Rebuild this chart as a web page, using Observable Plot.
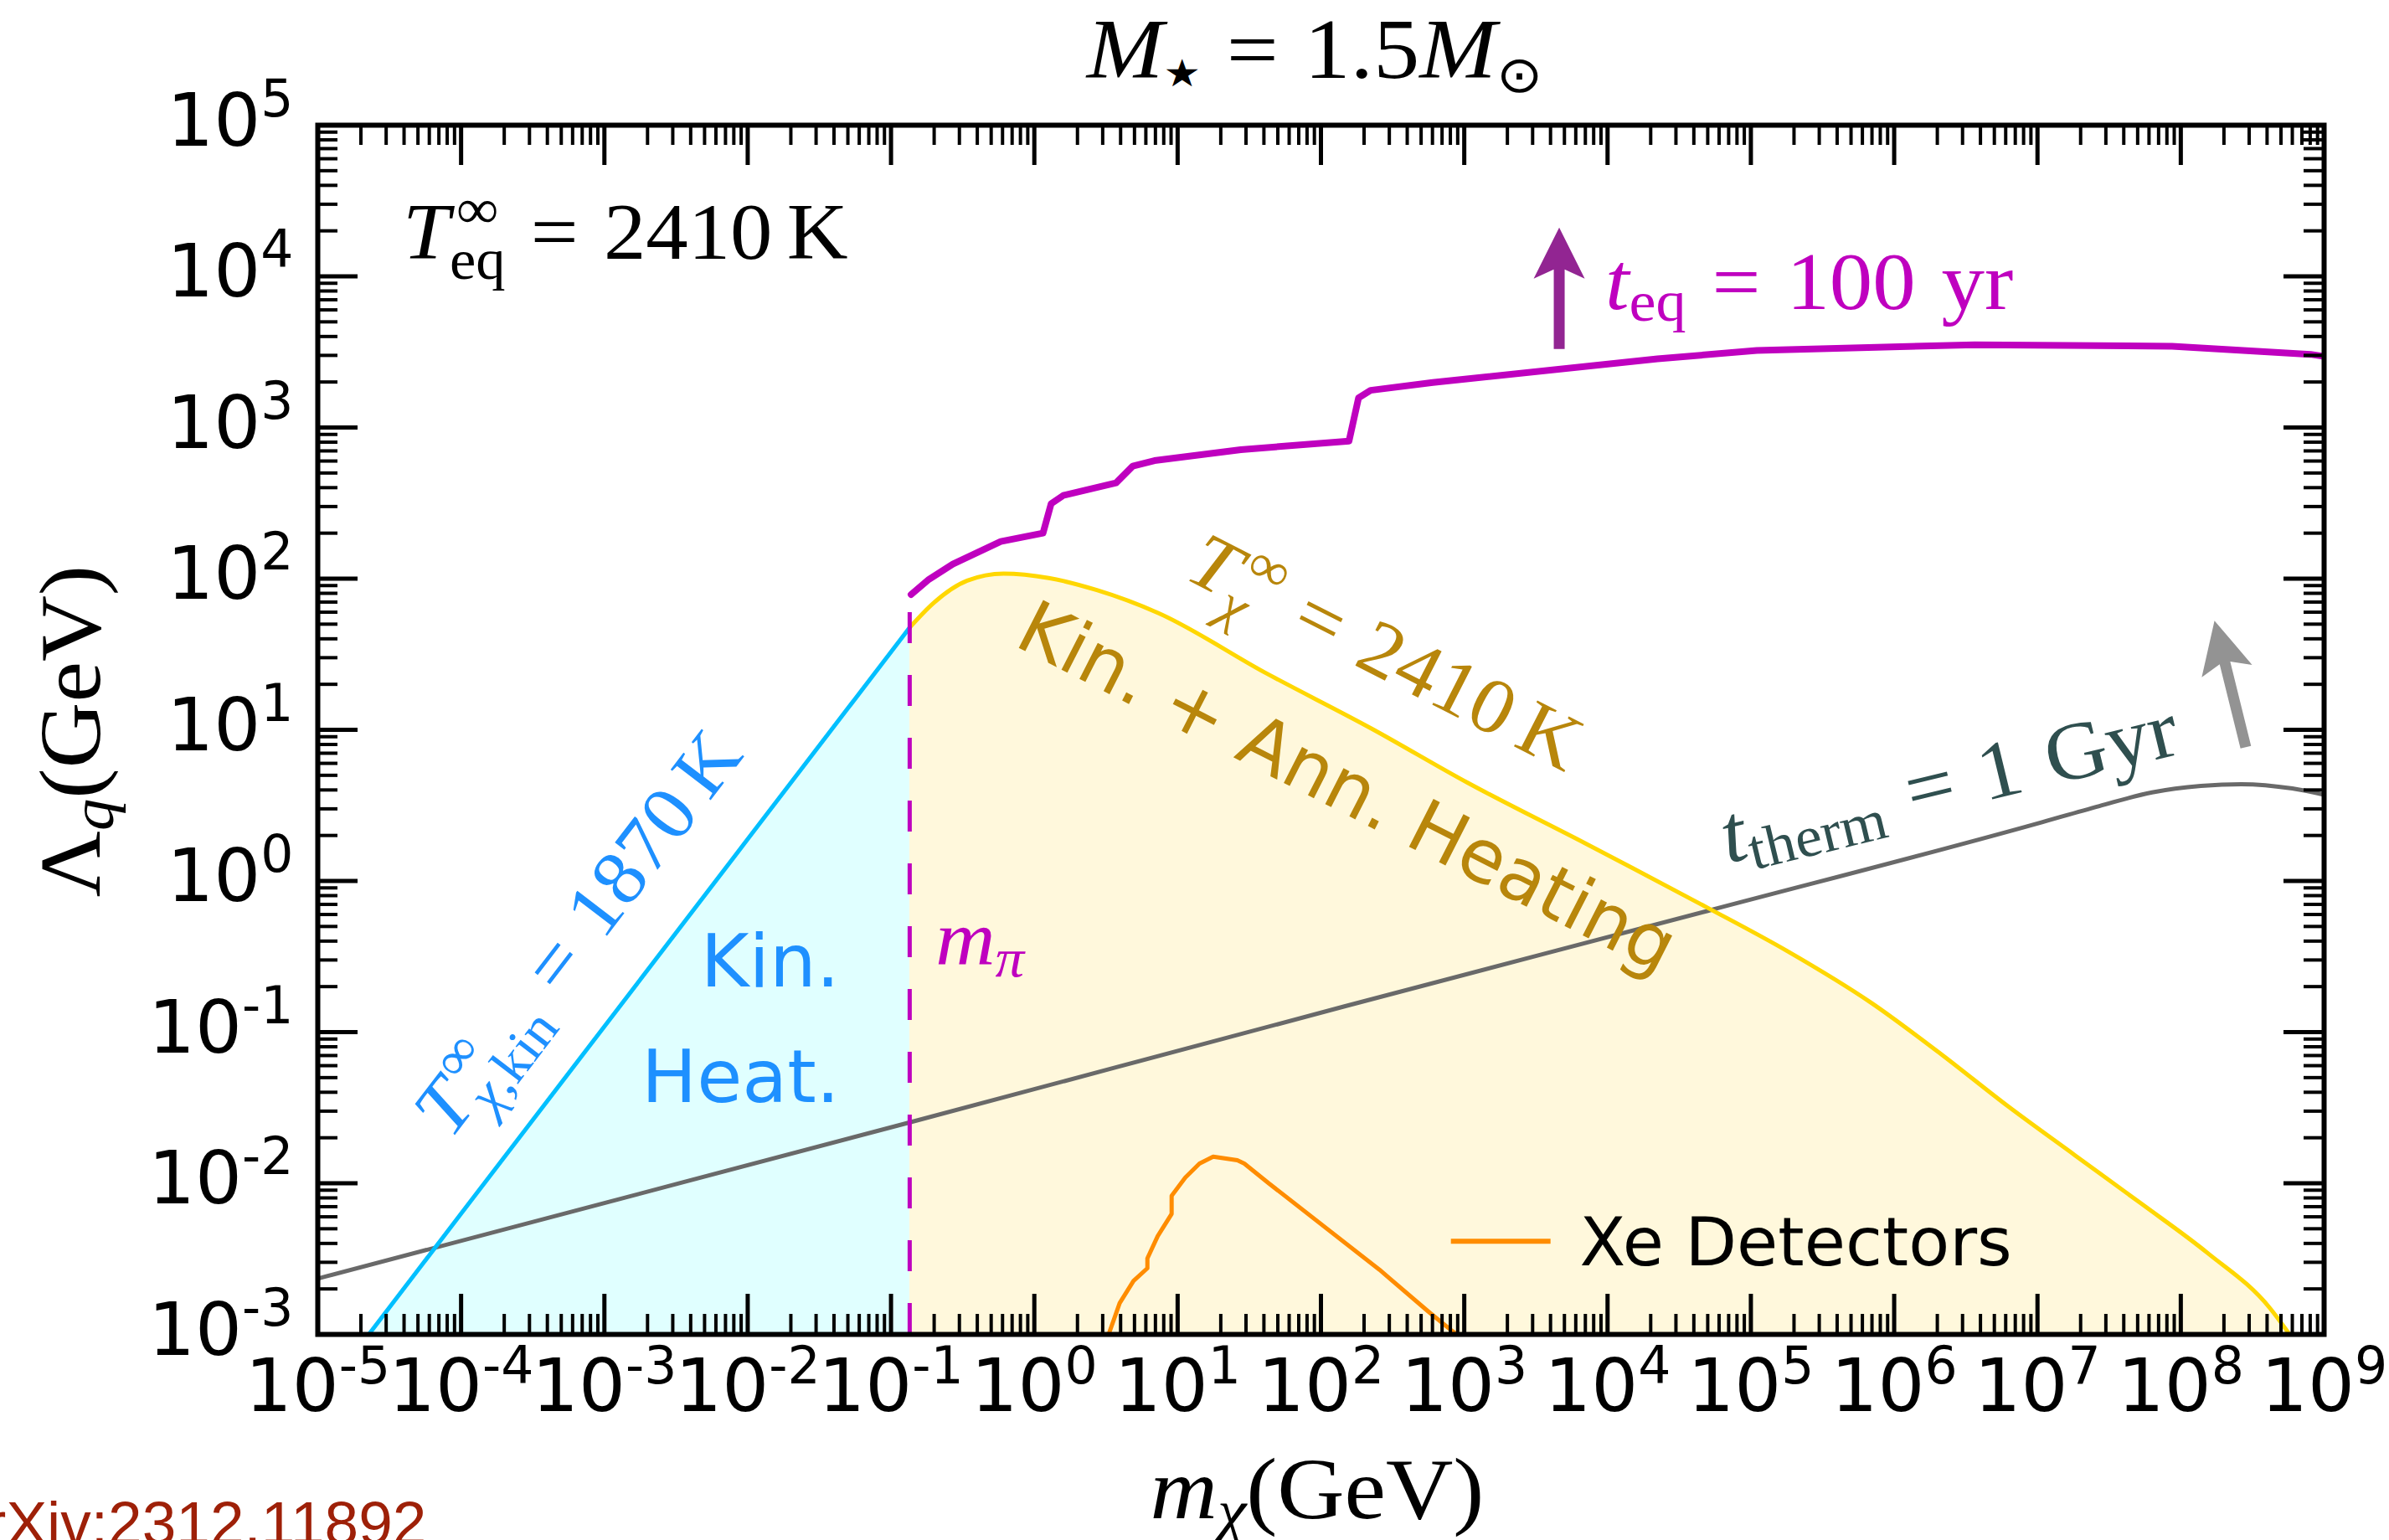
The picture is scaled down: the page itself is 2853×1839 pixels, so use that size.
<!DOCTYPE html>
<html>
<head>
<meta charset="utf-8">
<script src="https://cdn.jsdelivr.net/npm/d3@7"></script>
<script src="https://cdn.jsdelivr.net/npm/@observablehq/plot@0.6"></script>
<style>
  html, body { margin: 0; padding: 0; background: #fff; overflow: hidden; }
  svg { display: block; }
</style>
</head>
<body>
<div id="chart"></div>
<script>
// ---------- data: dark-matter mass m_chi (GeV) vs cutoff Lambda_q (GeV) ----------
// kinetic heating only, T_chi,kin = 1870 K
const kinMass   = [2.27e-5, 1e-4, 1e-3, 1e-2, 0.135];
const kinLambda = [1e-3, 6.3e-3, 0.109, 1.89, 47.5];

// kinetic + annihilation heating, T_chi = 2410 K
const annMass   = [0.135, 0.198, 0.34, 0.61, 1.26, 2.73, 7.31, 40.4, 225, 1057, 6930,
                   1.49e4, 5.0e4, 1.79e5, 6.93e5, 2.16e6, 6.28e6, 1.82e7, 5.30e7, 1.54e8, 4.17e8, 5.75e8];
const annLambda = [47.5, 69, 97, 108, 101, 84, 59.3, 24, 10.2, 4.46, 1.78,
                   1.22, 0.664, 0.344, 0.156, 0.0706, 0.0321, 0.01535, 7.33e-3, 3.45e-3, 1.5e-3, 1e-3];

// equilibration time t_eq = 100 yr
const eqMass   = [0.138, 0.184, 0.27, 0.583, 1.15, 1.31, 1.59, 3.72, 4.86, 6.89, 27.6, 157,
                  183, 222, 604, 2.23e4, 1.1e5, 3.64e6, 8.7e7, 8.05e8, 1e9];
const eqLambda = [78.5, 99, 125, 176, 200, 313, 355, 430, 555, 604, 714, 813,
                  1570, 1762, 1986, 2844, 3236, 3524, 3450, 3048, 2951];

// thermalization time t_therm = 1 Gyr
const thermMass   = [1e-5, 1e-3, 0.1355, 146, 5.0e4, 1e7, 2.7e7, 6.3e7, 1.38e8, 2.64e8, 6.0e8, 1e9];
const thermLambda = [2.34e-3, 7.4e-3, 0.0253, 0.148, 0.634, 2.40, 3.13, 3.85, 4.25, 4.37, 4.09, 3.72];

// xenon direct-detection limit
const xeMass   = [3.3, 3.94, 4.92, 6.15, 6.15, 7.26, 9.08, 9.08, 11.3, 14.2, 17.7, 26.1, 29.2, 43.2, 256, 560, 826, 891];
const xeLambda = [1e-3, 1.61e-3, 2.26e-3, 2.74e-3, 3.18e-3, 4.47e-3, 6.27e-3, 8.26e-3, 0.0109, 0.0135, 0.0150,
                  0.0142, 0.0135, 0.0100, 2.68e-3, 1.42e-3, 1.05e-3, 1e-3];

// pion mass (GeV) and the top of its marker line
const pionMass = 0.135;
const pionTop = 63;

// tick decades
const xExponents = [-5, -4, -3, -2, -1, 0, 1, 2, 3, 4, 5, 6, 7, 8, 9];
const yExponents = [-3, -2, -1, 0, 1, 2, 3, 4, 5];

// ---------- tables ----------
const zip = (ms, ls) => ms.map((m, i) => ({m, L: ls[i]}));
const kin = zip(kinMass, kinLambda);
const ann = zip(annMass, annLambda);
const eq = zip(eqMass, eqLambda);
const therm = zip(thermMass, thermLambda);
const xe = zip(xeMass, xeLambda);

const xMajor = xExponents.map(e => 10 ** e);
const yMajor = yExponents.map(e => 10 ** e);
const minorOf = exps => exps.slice(0, -1).flatMap(e => d3.range(2, 10).map(k => k * 10 ** e));
const xMinor = minorOf(xExponents);
const yMinor = minorOf(yExponents);

// ---------- layout ----------
const W = 2853, H = 1839;
const M = {left: 379, right: 78, top: 149, bottom: 246};
const frameW = W - M.left - M.right;
const frameH = H - M.top - M.bottom;
const SANS = "DejaVu Sans";
const SERIF = "Liberation Serif";
const TICK = 88, EXP = 0.7 * TICK;
const MAJOR = 48, MINOR = 24;

const negX = xExponents.filter(e => e < 0), posX = xExponents.filter(e => e >= 0);
const negY = yExponents.filter(e => e < 0), posY = yExponents.filter(e => e >= 0);
// widths of "10" and of a one/two-character exponent in DejaVu Sans
const w10 = 1.272 * TICK, wExp1 = 0.636 * EXP, wExp2 = 0.997 * EXP;

function xLabels(exps, wExp) {
  const shift = (w10 - wExp) / 2;
  const common = {x: e => 10 ** e, frameAnchor: "bottom", lineAnchor: "bottom", fontFamily: SANS, fill: "black"};
  return [
    Plot.text(exps, {...common, text: () => "10", textAnchor: "end", dx: shift, dy: 91, fontSize: TICK}),
    Plot.text(exps, {...common, text: e => String(e), textAnchor: "start", dx: shift, dy: 58, fontSize: EXP})
  ];
}
function yLabels(exps, wExp) {
  const common = {y: e => 10 ** e, frameAnchor: "left", lineAnchor: "bottom", fontFamily: SANS, fill: "black", textAnchor: "end"};
  return [
    Plot.text(exps, {...common, text: () => "10", dx: -29 - wExp, dy: 24, fontSize: TICK}),
    Plot.text(exps, {...common, text: e => String(e), dx: -29, dy: -11, fontSize: EXP})
  ];
}

const chart = Plot.plot({
  width: W, height: H,
  marginLeft: M.left, marginRight: M.right, marginTop: M.top, marginBottom: M.bottom,
  x: {type: "log", domain: [1e-5, 1e9], axis: null},
  y: {type: "log", domain: [1e-3, 1e5], axis: null},
  style: {background: "white"},
  marks: [
    // shaded regions
    Plot.areaY(kin, {x: "m", y1: () => 1e-3, y2: "L", fill: "#e0ffff", clip: true}),
    Plot.areaY(ann, {x: "m", y1: () => 1e-3, y2: "L", fill: "#fff8dc", curve: "monotone-x", clip: true}),
    // curves
    Plot.line(therm, {x: "m", y: "L", stroke: "#696969", strokeWidth: 5, curve: "monotone-x", clip: true}),
    Plot.line(ann, {x: "m", y: "L", stroke: "#ffd700", strokeWidth: 5, curve: "monotone-x", clip: true}),
    Plot.line(kin, {x: "m", y: "L", stroke: "#00bfff", strokeWidth: 5, clip: true}),
    Plot.ruleX([pionMass], {y1: () => 1e-3, y2: () => pionTop, stroke: "#bf00bf", strokeWidth: 5,
                            strokeDasharray: "37,38", strokeLinecap: "butt"}),
    Plot.line(eq, {x: "m", y: "L", stroke: "#bf00bf", strokeWidth: 8, clip: true}),
    Plot.line(xe, {x: "m", y: "L", stroke: "#ff8c00", strokeWidth: 5, clip: true}),

    // legend
    Plot.line([{m: 807, L: 4.13e-3}, {m: 4000, L: 4.13e-3}], {x: "m", y: "L", stroke: "#ff8c00", strokeWidth: 6, strokeLinecap: "butt"}),
    Plot.text([{m: 6400, L: 2.88e-3}], {x: "m", y: "L", text: () => "Xe Detectors", textAnchor: "start",
                                       lineAnchor: "bottom", fontSize: 80, fontFamily: SANS, fill: "black"}),

    // region labels
    Plot.text([{m: 0.0438, L: 0.0346}], {x: "m", y: "L", text: () => "Kin.\nHeat.", textAnchor: "end",
                                        lineAnchor: "bottom", lineHeight: 1.57, fontSize: 88, fontFamily: SANS, fill: "#1e90ff"}),
    Plot.text([{m: 127.6, L: 2.965}], {x: "m", y: "L", text: () => "Kin. + Ann. Heating", textAnchor: "middle",
                                      lineAnchor: "bottom", rotate: 27, fontSize: 88, fontFamily: SANS, fill: "#b8860b"}),

    // ticks, inward on all four sides
    Plot.ruleX(xMajor, {insetTop: frameH - MAJOR, strokeWidth: 5}),
    Plot.ruleX(xMajor, {insetBottom: frameH - MAJOR, strokeWidth: 5}),
    Plot.ruleX(xMinor, {insetTop: frameH - MINOR, strokeWidth: 4}),
    Plot.ruleX(xMinor, {insetBottom: frameH - MINOR, strokeWidth: 4}),
    Plot.ruleY(yMajor, {insetRight: frameW - MAJOR, strokeWidth: 5}),
    Plot.ruleY(yMajor, {insetLeft: frameW - MAJOR, strokeWidth: 5}),
    Plot.ruleY(yMinor, {insetRight: frameW - MINOR, strokeWidth: 4}),
    Plot.ruleY(yMinor, {insetLeft: frameW - MINOR, strokeWidth: 4}),
    Plot.frame({stroke: "black", strokeWidth: 6}),

    // tick labels 10^n
    ...xLabels(negX, wExp2), ...xLabels(posX, wExp1),
    ...yLabels(negY, wExp2), ...yLabels(posY, wExp1),

    // source note
    Plot.text(["arXiv:2312.11892"], {frameAnchor: "bottom-left", textAnchor: "start", lineAnchor: "bottom",
                                     dx: -437, dy: 250, fontSize: 73, fontFamily: "Liberation Sans", fill: "#9e2008"})
  ]
});
document.getElementById("chart").append(chart);

// ---------- math-style annotations ----------
const sx = chart.scale("x"), sy = chart.scale("y");
const px = m => sx.apply(m), py = L => sy.apply(L);
const runsOf = v => typeof v === "string" ? [[v, false]] : v;

function mathLabel({x, y, angle = 0, size, fill, anchor = "start", stretch = 1.05, parts}) {
  const g = d3.select(chart).append("g")
    .attr("transform", `translate(${x},${y}) rotate(${angle})`)
    .attr("fill", fill).attr("font-family", SERIF).attr("text-anchor", "start");
  const inner = g.append("g");
  let cursor = 0;
  const put = (runs, dx, dy, fontSize) => {
    const t = inner.append("text").attr("x", dx).attr("y", dy).attr("font-size", fontSize);
    for (const [str, italic, family] of runs) {
      const s = t.append("tspan").text(str);
      if (italic) s.attr("font-style", "italic");
      if (family) s.attr("font-family", family);
    }
    return t.node().getComputedTextLength();
  };
  for (const p of parts) {
    if (p.gap != null) cursor += p.gap * size;
    else if (p.sup != null || p.sub != null) {
      const both = p.sup != null && p.sub != null;
      const kern = (p.supKern ?? 0) * size;
      let w = 0;
      if (p.sup != null) w = Math.max(w, kern + put(runsOf(p.sup), cursor + kern, -0.38 * size, 0.7 * size));
      if (p.sub != null) w = Math.max(w, put(runsOf(p.sub), cursor, (both ? 0.25 : 0.15) * size, 0.7 * size));
      cursor += w;
    } else {
      cursor += put(runsOf(p.text), cursor, (p.dy ?? 0) * size, (p.scale ?? 1) * size);
    }
  }
  const shift = anchor === "end" ? -cursor : anchor === "middle" ? -cursor / 2 : 0;
  inner.attr("transform", `scale(${stretch},1) translate(${shift},0)`);
}

function arrow({from, to, fill, shaft, headLength, headWidth, notch}) {
  const x0 = px(from[0]), y0 = py(from[1]), x1 = px(to[0]), y1 = py(to[1]);
  const len = Math.hypot(x1 - x0, y1 - y0);
  const ux = (x1 - x0) / len, uy = (y1 - y0) / len, nx = -uy, ny = ux;
  const bx = x1 - ux * headLength, by = y1 - uy * headLength;
  const cx = bx - ux * notch, cy = by - uy * notch;
  const pts = [
    [x0 + nx * shaft / 2, y0 + ny * shaft / 2],
    [bx + nx * shaft / 2, by + ny * shaft / 2],
    [cx + nx * headWidth / 2, cy + ny * headWidth / 2],
    [x1, y1],
    [cx - nx * headWidth / 2, cy - ny * headWidth / 2],
    [bx - nx * shaft / 2, by - ny * shaft / 2],
    [x0 - nx * shaft / 2, y0 - ny * shaft / 2]
  ];
  d3.select(chart).append("path").attr("d", "M" + pts.join("L") + "Z").attr("fill", fill);
}

const eqT = {sup: "∞", supKern: 0.08};
const frameMidX = M.left + frameW / 2;
const frameMidY = M.top + frameH / 2;

// title
mathLabel({x: frameMidX - 7, y: 93, size: 101, stretch: 1.09, fill: "black", anchor: "middle", parts: [
  {text: [["M", true]]}, {text: [["★", false, SANS]], scale: 0.45, dy: 0.1},
  {gap: 0.28}, {text: "="}, {gap: 0.28}, {text: "1.5"},
  {text: [["M", true]]}, {text: [["⊙", false, SANS]], scale: 0.6, dy: 0.17}
]});
// axis titles
mathLabel({x: frameMidX - 4, y: 1813, size: 104, stretch: 1.07, fill: "black", anchor: "middle", parts: [
  {text: [["m", true]]}, {sub: [["χ", true]]}, {text: "(GeV)"}
]});
mathLabel({x: 119, y: frameMidY + 2, angle: -90, size: 104, fill: "black", anchor: "middle", parts: [
  {text: "Λ"}, {sub: [["q", true]]}, {text: "(GeV)"}
]});

// equilibrium temperature
mathLabel({x: px(3.94e-5), y: py(1.30e4), size: 96, fill: "black", parts: [
  {text: [["T", true]]}, {...eqT, sub: "eq"}, {gap: 0.3}, {text: "="}, {gap: 0.3},
  {text: "2410"}, {gap: 0.17}, {text: "K"}
]});
// t_eq = 100 yr with arrow
arrow({from: [4630, 3290], to: [4630, 2.09e4], fill: "#922592", shaft: 13, headLength: 50, headWidth: 61, notch: 11});
mathLabel({x: px(9700), y: py(6070), size: 98, fill: "#bf00bf", parts: [
  {text: [["t", true]]}, {sub: "eq"}, {gap: 0.3}, {text: "="}, {gap: 0.3},
  {text: "100"}, {gap: 0.3}, {text: "yr"}
]});
// pion mass
mathLabel({x: px(0.2056), y: py(0.2767), size: 94, fill: "#bf00bf", parts: [
  {text: [["m", true]]}, {sub: [["π", true]]}
]});
// kinetic-heating temperature along the blue line
mathLabel({x: px(9.02e-4), y: py(0.357), angle: -52.6, size: 92, fill: "#1e90ff", anchor: "middle", parts: [
  {text: [["T", true]]}, {...eqT, sub: [["χ", true], [",kin", false]]}, {gap: 0.3}, {text: "="}, {gap: 0.3},
  {text: "1870"}, {gap: 0.17}, {text: "K"}
]});
// kinetic + annihilation temperature along the gold line
mathLabel({x: px(236), y: py(22.9), angle: 27, size: 94, fill: "#b8860b", anchor: "middle", parts: [
  {text: [["T", true]]}, {...eqT, sub: [["χ", true]]}, {gap: 0.3}, {text: "="}, {gap: 0.3},
  {text: "2410"}, {gap: 0.17}, {text: "K"}
]});
// thermalization time along the grey line, with arrow
mathLabel({x: px(2.67e6), y: py(3.0), angle: -13.6, size: 98, fill: "#2f4f4f", anchor: "middle", parts: [
  {text: [["t", true]]}, {sub: "therm"}, {gap: 0.3}, {text: "="}, {gap: 0.3},
  {text: "1"}, {gap: 0.3}, {text: "Gyr"}
]});
arrow({from: [2.86e8, 7.62], to: [1.73e8, 52.4], fill: "#939393", shaft: 13, headLength: 52, headWidth: 62, notch: 10});
</script>
</body>
</html>
